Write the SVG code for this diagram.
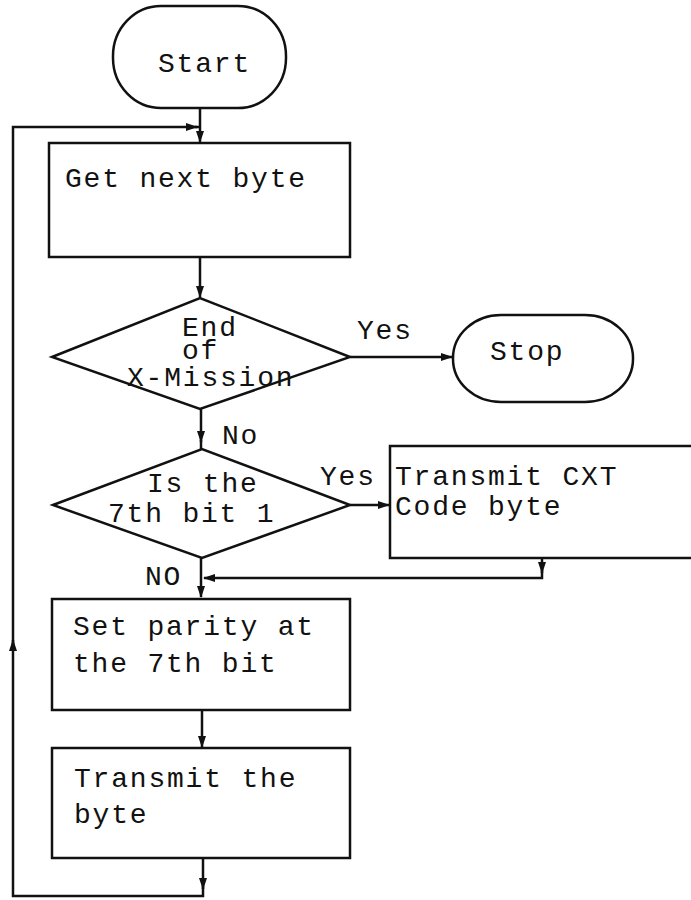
<svg xmlns="http://www.w3.org/2000/svg" width="691" height="900" viewBox="0 0 691 900">
  <style>
    .shape { fill: #fff; stroke: #111; stroke-width: 2.5; }
    .wire { fill: none; stroke: #111; stroke-width: 2.5; }
    .label { font-family: "Liberation Mono", "Courier New", monospace; font-size: 28px; letter-spacing: 1.8px; fill: #111; }
  </style>
  <defs>
    <marker id="arrow" viewBox="0 0 12 8" refX="11" refY="4" markerWidth="13" markerHeight="8" markerUnits="userSpaceOnUse" orient="auto">
      <path d="M0,0 L12,4 L0,8 Z" fill="#111"/>
    </marker>
  </defs>
  <rect width="691" height="900" fill="#fff"/>

  <g id="connectors">
    <!-- Start to first box -->
    <path class="wire" d="M200,108 V142" marker-end="url(#arrow)"/>
    <!-- loop back: bottom box down, round the left side, into the top -->
    <path class="wire" d="M203,858 V889" marker-end="url(#arrow)"/>
    <path class="wire" d="M203,886 V896 H13 V640" marker-end="url(#arrow)"/>
    <path class="wire" d="M13,645 V127 H197" marker-end="url(#arrow)"/>
    <path class="wire" d="M195,127 H200"/>
    <!-- Get next byte to first decision -->
    <path class="wire" d="M200,257 V297" marker-end="url(#arrow)"/>
    <!-- End of X-Mission: Yes to Stop -->
    <path class="wire" d="M350,357 H452" marker-end="url(#arrow)"/>
    <!-- End of X-Mission: No to second decision -->
    <path class="wire" d="M201,409 V442" marker-end="url(#arrow)"/>
    <path class="wire" d="M201,440 V449"/>
    <!-- 7th bit: Yes to Transmit CXT -->
    <path class="wire" d="M350,505 H389" marker-end="url(#arrow)"/>
    <!-- Transmit CXT back to main line -->
    <path class="wire" d="M542,558 V573" marker-end="url(#arrow)"/>
    <path class="wire" d="M542,570 V578 H204" marker-end="url(#arrow)"/>
    <!-- 7th bit: No to Set parity -->
    <path class="wire" d="M201,558 V597" marker-end="url(#arrow)"/>
    <!-- Set parity to Transmit the byte -->
    <path class="wire" d="M202,710 V747" marker-end="url(#arrow)"/>
  </g>

  <g id="start">
    <rect class="shape" x="113" y="6" width="173" height="102" rx="48" ry="50"/>
    <text class="label" x="158" y="72">Start</text>
  </g>

  <g id="get-next-byte">
    <rect class="shape" x="49" y="143" width="301" height="114"/>
    <text class="label" x="65" y="187">Get next byte</text>
  </g>

  <g id="end-of-transmission">
    <polygon class="shape" points="52,357 200,298 350,357 200,409"/>
    <text class="label" x="182" y="336">End</text>
    <text class="label" x="182" y="359">of</text>
    <text class="label" x="127" y="386">X-Mission</text>
  </g>

  <g id="stop">
    <rect class="shape" x="453" y="315" width="180" height="87" rx="48" ry="43"/>
    <text class="label" x="490" y="360">Stop</text>
  </g>

  <g id="seventh-bit">
    <polygon class="shape" points="53,505 202,449 350,505 202,558"/>
    <text class="label" x="147" y="492">Is the</text>
    <text class="label" x="108" y="522">7th bit 1</text>
  </g>

  <g id="transmit-cxt">
    <rect class="shape" x="390" y="446" width="320" height="112"/>
    <text class="label" x="395" y="485">Transmit CXT</text>
    <text class="label" x="395" y="515">Code byte</text>
  </g>

  <g id="set-parity">
    <rect class="shape" x="52" y="599" width="298" height="111"/>
    <text class="label" x="73" y="635">Set parity at</text>
    <text class="label" x="73" y="672">the 7th bit</text>
  </g>

  <g id="transmit-byte">
    <rect class="shape" x="52" y="748" width="298" height="110"/>
    <text class="label" x="74" y="787">Transmit the</text>
    <text class="label" x="74" y="823">byte</text>
  </g>

  <g id="branch-labels">
    <text class="label" x="357" y="339">Yes</text>
    <text class="label" x="222" y="444">No</text>
    <text class="label" x="320" y="485">Yes</text>
    <text class="label" x="145" y="585">NO</text>
  </g>
</svg>
